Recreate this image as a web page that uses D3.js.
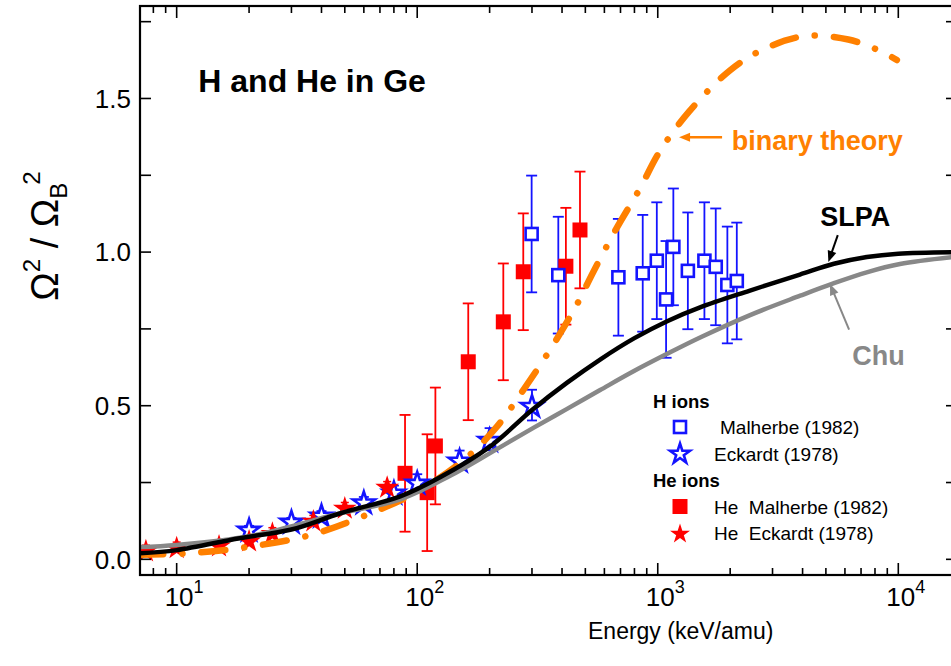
<!DOCTYPE html>
<html lang="en">
<head>
<meta charset="utf-8">
<title>H and He in Ge</title>
<script src="https://cdn.jsdelivr.net/npm/d3@7"></script>
<style>
  body { margin: 0; background: #fff; }
  svg { display: block; font-family: "Liberation Sans", Arial, sans-serif; }
</style>
</head>
<body>
<script>
// ---- data (energy in keV/amu, ratio Omega^2/Omega_B^2) ----
// H ions, Malherbe (1982) - open blue squares
var hMalE   = [299, 386, 686, 866, 991, 1083, 1161, 1334, 1563, 1742, 1947, 2131];
var hMalY   = [1.059, 0.925, 0.918, 0.931, 0.972, 0.846, 1.017, 0.939, 0.972, 0.952, 0.893, 0.906];
var hMalErr = [0.19, 0.19, 0.19, 0.19, 0.19, 0.19, 0.19, 0.19, 0.19, 0.19, 0.19, 0.19];

// H ions, Eckardt (1978) - open blue stars
var hEckE   = [20, 30, 40, 60, 80, 100, 150, 200, 300];
var hEckY   = [0.099, 0.125, 0.145, 0.188, 0.22, 0.252, 0.324, 0.391, 0.502];
var hEckErr = [0.01, 0.01, 0.012, 0.015, 0.02, 0.025, 0.03, 0.036, 0.05];

// He ions, Malherbe (1982) - filled red squares
var heMalE   = [89, 110, 119, 163, 228, 276, 415, 475];
var heMalY   = [0.28, 0.217, 0.369, 0.643, 0.773, 0.936, 0.954, 1.072];
var heMalErr = [0.19, 0.19, 0.19, 0.19, 0.19, 0.19, 0.19, 0.19];

// He ions, Eckardt (1978) - filled red stars
var heEckE   = [7.45, 10, 15, 20, 25, 37, 50, 75];
var heEckY   = [0.031, 0.041, 0.047, 0.063, 0.088, 0.128, 0.17, 0.238];
var heEckErr = [0.015, 0.015, 0.015, 0.015, 0.015, 0.015, 0.015, 0.015];

// theory curves
var slpaE = [7, 10, 18, 30, 48, 85, 125, 200, 300, 420, 580, 800, 1100, 1500, 2400, 3900, 5400, 7400, 10000, 17500];
var slpaY = [0.02, 0.03, 0.068, 0.097, 0.15, 0.205, 0.268, 0.366, 0.486, 0.575, 0.652, 0.72, 0.776, 0.82, 0.874, 0.927, 0.962, 0.984, 0.995, 1.0];

var chuE = [7, 10, 20, 48, 85, 137, 200, 304, 418, 576, 793, 1089, 1500, 2420, 3910, 5370, 7390, 10160, 17500];
var chuY = [0.04, 0.047, 0.075, 0.15, 0.195, 0.272, 0.345, 0.428, 0.489, 0.551, 0.612, 0.668, 0.722, 0.795, 0.858, 0.898, 0.934, 0.961, 0.985];

var binE = [7, 11.4, 20, 36, 64, 100, 156, 214, 276, 360, 460, 540, 670, 843, 1016, 1349, 2000, 2748, 4093, 6194, 8531, 9863];
var binY = [0.015, 0.02, 0.041, 0.079, 0.15, 0.22, 0.323, 0.431, 0.551, 0.687, 0.828, 0.936, 1.074, 1.207, 1.326, 1.457, 1.592, 1.66, 1.703, 1.692, 1.652, 1.625];

var yTickVals  = [0, 0.25, 0.5, 0.75, 1.0, 1.25, 1.5, 1.75];
var yTickLabel = [0, 0.5, 1.0, 1.5];
var xDecades   = [1, 2, 3, 4];

var W = 951, H = 666;
var plotL = 140, plotR = 957, plotT = 6, plotB = 575;

var blue = "#1414ff", red = "#ff0000", gray = "#888888", orange = "#ff8000";

var x = d3.scaleLog().domain([7.04, 17540]).range([plotL, plotR]);
var y = d3.scaleLinear().domain([-0.051, 1.801]).range([plotB, plotT]);

var svg = d3.select("body").append("svg")
  .attr("width", W).attr("height", H);

svg.append("rect").attr("width", W).attr("height", H).attr("fill", "#fff");

svg.append("clipPath").attr("id", "plotclip")
  .append("rect").attr("x", plotL).attr("y", plotT)
  .attr("width", plotR - plotL).attr("height", plotB - plotT);

function zip(a, b, e) {
  return a.map(function(v, i) { return {x: v, y: b[i], e: e ? e[i] : 0}; });
}

var plot = svg.append("g").attr("clip-path", "url(#plotclip)");

// ---- error bars ----
function errorBars(data, color, cap, width) {
  var g = plot.append("g").attr("stroke", color).attr("stroke-width", width).attr("fill", "none");
  data.forEach(function(d) {
    var cx = x(d.x), y1 = y(d.y + d.e), y2 = y(d.y - d.e);
    g.append("line").attr("x1", cx).attr("x2", cx).attr("y1", y1).attr("y2", y2);
    g.append("line").attr("x1", cx - cap).attr("x2", cx + cap).attr("y1", y1).attr("y2", y1);
    g.append("line").attr("x1", cx - cap).attr("x2", cx + cap).attr("y1", y2).attr("y2", y2);
  });
}

var hMal = zip(hMalE, hMalY, hMalErr);
var hEck = zip(hEckE, hEckY, hEckErr);
var heMal = zip(heMalE, heMalY, heMalErr);
var heEck = zip(heEckE, heEckY, heEckErr);

errorBars(heEck, red, 4, 1.5);
errorBars(hEck, blue, 5, 1.8);
errorBars(heMal, red, 5.5, 1.8);
errorBars(hMal, blue, 5.5, 1.8);

// ---- markers ----
var starBig = d3.symbol().type(d3.symbolStar).size(12.5 * 12.5 / 0.8908);
var starOpen = d3.symbol().type(d3.symbolStar).size(11.5 * 11.5 / 0.8908);
var starLeg = d3.symbol().type(d3.symbolStar).size(10.5 * 10.5 / 0.8908);

plot.selectAll(".hesq").data(heMal).enter().append("rect")
  .attr("x", function(d) { return x(d.x) - 7.5; })
  .attr("y", function(d) { return y(d.y) - 7.5; })
  .attr("width", 15).attr("height", 15).attr("fill", red);

plot.selectAll(".hsq").data(hMal).enter().append("rect")
  .attr("x", function(d) { return x(d.x) - 6; })
  .attr("y", function(d) { return y(d.y) - 6; })
  .attr("width", 12).attr("height", 12)
  .attr("fill", "#fff").attr("stroke", blue).attr("stroke-width", 2.6);

plot.selectAll(".hst").data(hEck).enter().append("path")
  .attr("d", starOpen)
  .attr("transform", function(d) { return "translate(" + x(d.x) + "," + (y(d.y) + 1.5) + ")"; })
  .attr("fill", "#fff").attr("stroke", blue).attr("stroke-width", 2.6);

plot.selectAll(".hest").data(heEck).enter().append("path")
  .attr("d", starBig)
  .attr("transform", function(d) { return "translate(" + x(d.x) + "," + (y(d.y) + 1.5) + ")"; })
  .attr("fill", red);

// ---- theory curves ----
var line = d3.line()
  .x(function(d) { return x(d.x); })
  .y(function(d) { return y(d.y); })
  .curve(d3.curveCatmullRom.alpha(0.5));

plot.append("path").datum(zip(binE, binY))
  .attr("d", line).attr("fill", "none")
  .attr("stroke", orange).attr("stroke-width", 6.5)
  .attr("stroke-linecap", "round")
  .attr("stroke-dasharray", "24 19 0.1 19");

plot.append("path").datum(zip(chuE, chuY))
  .attr("d", line).attr("fill", "none")
  .attr("stroke", gray).attr("stroke-width", 4.5);

plot.append("path").datum(zip(slpaE, slpaY))
  .attr("d", line).attr("fill", "none")
  .attr("stroke", "#000").attr("stroke-width", 4.5);

// ---- axes ----
var axes = svg.append("g").attr("stroke", "#000").attr("fill", "none");
axes.append("rect").attr("x", plotL).attr("y", plotT)
  .attr("width", plotR - plotL).attr("height", plotB - plotT)
  .attr("stroke-width", 2.2);

// minor + major x ticks (bottom and top, pointing inward)
var xTicks = [];
for (var p = 0; p <= 4; p++) {
  for (var m = 1; m <= 9; m++) {
    var v = m * Math.pow(10, p);
    if (v >= x.domain()[0] && v <= x.domain()[1]) xTicks.push({v: v, major: m === 1});
  }
}
xTicks.forEach(function(t) {
  var px = x(t.v), len = t.major ? 12 : 7;
  axes.append("line").attr("x1", px).attr("x2", px)
    .attr("y1", plotB).attr("y2", plotB - len).attr("stroke-width", 1.6);
  axes.append("line").attr("x1", px).attr("x2", px)
    .attr("y1", plotT).attr("y2", plotT + len).attr("stroke-width", 1.6);
});

yTickVals.forEach(function(v) {
  axes.append("line").attr("x1", plotL).attr("x2", plotL + 11)
    .attr("y1", y(v)).attr("y2", y(v)).attr("stroke-width", 1.6);
  axes.append("line").attr("x1", plotR).attr("x2", plotR - 11)
    .attr("y1", y(v)).attr("y2", y(v)).attr("stroke-width", 1.6);
});

// tick labels
var labels = svg.append("g").attr("fill", "#000");
yTickLabel.forEach(function(v) {
  labels.append("text")
    .attr("x", 131).attr("y", y(v)).attr("dy", "0.36em")
    .attr("text-anchor", "end").attr("font-size", 26)
    .text(d3.format(".1f")(v));
});

xDecades.forEach(function(dec) {
  var t = labels.append("text")
    .attr("x", x(Math.pow(10, dec)) - 12).attr("y", 606)
    .attr("font-size", 26);
  t.append("tspan").text("10");
  t.append("tspan").attr("font-size", 18).attr("dy", -13).text(dec);
});

// axis titles
labels.append("text")
  .attr("x", 588).attr("y", 639).attr("font-size", 23)
  .text("Energy (keV/amu)");

var yt = labels.append("text")
  .attr("transform", "translate(58,236) rotate(-90)")
  .attr("text-anchor", "middle").attr("font-size", 38);
yt.append("tspan").text("\u03A9");
yt.append("tspan").attr("font-size", 24).attr("dy", -18).text("2");
yt.append("tspan").attr("dy", 18).text(" / \u03A9");
yt.append("tspan").attr("font-size", 24).attr("dy", 9).text("B");
yt.append("tspan").attr("font-size", 24).attr("dx", -2).attr("dy", -27).text("2");

// ---- annotations (positions in data units) ----
labels.append("text")
  .attr("x", x(12.3)).attr("y", y(1.52))
  .attr("font-size", 32).attr("font-weight", "bold")
  .text("H and He in Ge");

function arrow(e1, v1, e2, v2, color, w) {
  var x1 = x(e1), y1 = y(v1), x2 = x(e2), y2 = y(v2);
  var a = Math.atan2(y2 - y1, x2 - x1), hl = 11, hw = 4.5;
  svg.append("line").attr("x1", x1).attr("y1", y1)
    .attr("x2", x2 - Math.cos(a) * hl * 0.8).attr("y2", y2 - Math.sin(a) * hl * 0.8)
    .attr("stroke", color).attr("stroke-width", w);
  var bx = x2 - Math.cos(a) * hl, by = y2 - Math.sin(a) * hl;
  svg.append("path")
    .attr("d", "M" + x2 + "," + y2 +
      "L" + (bx - Math.sin(a) * hw) + "," + (by + Math.cos(a) * hw) +
      "L" + (bx + Math.sin(a) * hw) + "," + (by - Math.cos(a) * hw) + "Z")
    .attr("fill", color);
}

arrow(1851, 1.374, 1226, 1.374, orange, 2.5);
labels.append("text")
  .attr("x", x(2031)).attr("y", y(1.332))
  .attr("font-size", 27).attr("font-weight", "bold").attr("fill", orange)
  .text("binary theory");

arrow(5603, 1.055, 5121, 0.968, "#000", 2);
labels.append("text")
  .attr("x", x(4732)).attr("y", y(1.0856))
  .attr("font-size", 27).attr("font-weight", "bold")
  .text("SLPA");

arrow(6243, 0.748, 5200, 0.896, gray, 2);
labels.append("text")
  .attr("x", x(6442)).attr("y", y(0.632))
  .attr("font-size", 27).attr("font-weight", "bold").attr("fill", gray)
  .text("Chu");

// ---- legend ----
var lg = svg.append("g").attr("font-size", 19);
lg.append("text").attr("x", 653).attr("y", 408).attr("font-weight", "bold").attr("font-size", 18.5).text("H ions");
lg.append("rect").attr("x", 674).attr("y", 421).attr("width", 12).attr("height", 12)
  .attr("fill", "#fff").attr("stroke", blue).attr("stroke-width", 2.6);
lg.append("text").attr("x", 720).attr("y", 434).text("Malherbe (1982)");
lg.append("path").attr("d", starLeg).attr("transform", "translate(680,454)")
  .attr("fill", "#fff").attr("stroke", blue).attr("stroke-width", 2.6);
lg.append("text").attr("x", 714).attr("y", 461).text("Eckardt (1978)");
lg.append("text").attr("x", 653).attr("y", 487).attr("font-weight", "bold").attr("font-size", 18.5).text("He ions");
lg.append("rect").attr("x", 672.5).attr("y", 499).attr("width", 15).attr("height", 15).attr("fill", red);
lg.append("text").attr("x", 714).attr("y", 513.5).attr("xml:space", "preserve").text("He  Malherbe (1982)");
lg.append("path").attr("d", starLeg).attr("transform", "translate(680,534)").attr("fill", red);
lg.append("text").attr("x", 714).attr("y", 539.5).attr("xml:space", "preserve").text("He  Eckardt (1978)");
</script>
</body>
</html>
